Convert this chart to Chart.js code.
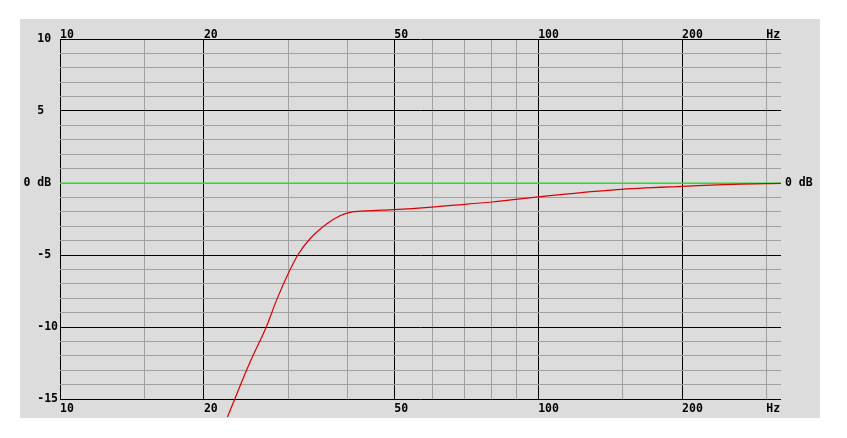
<!DOCTYPE html>
<html>
<head>
<meta charset="utf-8">
<script src="https://cdn.jsdelivr.net/npm/chart.js@4.4.0/dist/chart.umd.min.js"></script>
<style>
body { margin: 0; background: #fff; }
</style>
</head>
<body>
<canvas id="fr" width="847" height="438"></canvas>
<script>
// response (Hz / dB)
var freqs  = [22.4, 23.2, 25, 27, 28.4, 30, 31.5, 33.3, 36.1, 38.5, 40.4, 43.7, 50, 60, 65, 80, 106, 146, 200, 257, 322];
var levels = [-16.25, -15, -12.4, -10, -8.1, -6.3, -4.95, -3.89, -2.85, -2.27, -2.04, -1.94, -1.85, -1.67, -1.57, -1.32, -0.88, -0.46, -0.23, -0.09, -0.03];

// axis ticks
var xTicks  = [10, 15, 20, 30, 40, 50, 60, 70, 80, 90, 100, 150, 200, 300];
var xMajor  = [10, 20, 50, 100, 200];
var xLabels = {10: '10', 20: '20', 50: '50', 100: '100', 200: '200', 300: 'Hz'};
var yLabels = {10: '10 ', 5: '5  ', 0: '0 dB ', '-5': '-5 ', '-10': '-10', '-15': '-15'};
var refLevel = 0;

var GRAY_BG = '#dcdcdc';
var MINOR = '#a0a0a0';
var GREEN = '#22e022';
var FONT = {family: 'DejaVu Sans Mono', size: 11.5, weight: 'bold'};

function set_x_ticks(scale){
	scale.ticks = xTicks.map(function(v){ return {value: v}; });
}

function x_label(value){
	return xLabels[value] !== undefined ? xLabels[value] : '';
}

// gray panel behind the plot + green 0 dB reference line
var panelPlugin = {
	id: 'panel',
	beforeDraw: function(chart){
		var a = chart.chartArea, ctx = chart.ctx;
		ctx.save();
		ctx.fillStyle = GRAY_BG;
		ctx.fillRect(a.left - 40, a.top - 20, (a.right - a.left) + 79, (a.bottom - a.top) + 39);
		ctx.restore();
	},
	beforeDatasetsDraw: function(chart){
		var a = chart.chartArea, ctx = chart.ctx;
		var y = Math.round(chart.scales.y.getPixelForValue(refLevel));
		ctx.save();
		ctx.fillStyle = GREEN;
		ctx.fillRect(a.left, y - 0.5, a.right - a.left, 1.5);
		ctx.restore();
	}
};

var points = freqs.map(function(f, i){ return {x: f, y: levels[i]}; });

new Chart(document.getElementById('fr').getContext('2d'), {
	type: 'line',
	data: {
		datasets: [{
			data: points,
			borderColor: '#dd0000',
			borderWidth: 1.2,
			pointRadius: 0,
			cubicInterpolationMode: 'monotone',
			clip: false
		}]
	},
	options: {
		responsive: false,
		animation: false,
		events: [],
		layout: {padding: 0},
		plugins: {legend: {display: false}, tooltip: {enabled: false}},
		scales: {
			x: {
				type: 'logarithmic', position: 'bottom', min: 10, max: 322,
				afterBuildTicks: set_x_ticks,
				afterFit: function(s){ s.height = 39; },
				border: {display: false},
				grid: {
					drawTicks: false,
					color: function(c){ return xMajor.indexOf(c.tick.value) >= 0 ? '#000' : MINOR; }
				},
				ticks: {autoSkip: false, maxRotation: 0, align: 'start', padding: 3, color: '#000', font: FONT, callback: x_label}
			},
			xTop: {
				type: 'logarithmic', position: 'top', min: 10, max: 322,
				afterBuildTicks: set_x_ticks,
				afterFit: function(s){ s.height = 39; },
				border: {display: false},
				grid: {display: false, drawTicks: false},
				ticks: {autoSkip: false, maxRotation: 0, align: 'start', padding: -3, color: '#000', font: FONT, callback: x_label}
			},
			y: {
				position: 'left', min: -15, max: 10,
				afterFit: function(s){ s.width = 60; },
				border: {display: false},
				grid: {
					drawTicks: false,
					color: function(c){ return c.tick.value % 5 === 0 ? '#000' : MINOR; }
				},
				ticks: {stepSize: 1, autoSkip: false, padding: 2, color: '#000', font: FONT,
					callback: function(v){ return yLabels[v] !== undefined ? yLabels[v] : ''; }}
			},
			yRight: {
				position: 'right', min: -15, max: 10,
				afterFit: function(s){ s.width = 66; },
				border: {display: false},
				grid: {display: false, drawTicks: false},
				ticks: {stepSize: 1, autoSkip: false, padding: 4, color: '#000', font: FONT,
					callback: function(v){ return v === refLevel ? '0 dB' : ''; }}
			}
		}
	},
	plugins: [panelPlugin]
});
</script>
</body>
</html>
